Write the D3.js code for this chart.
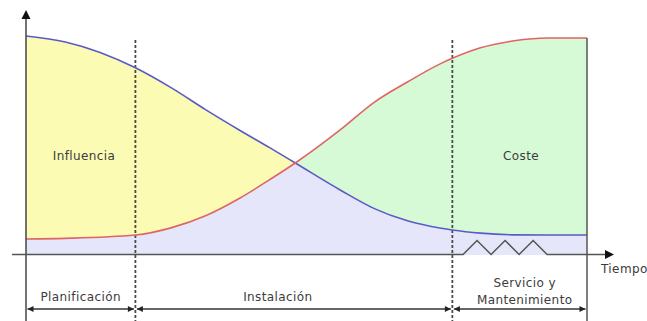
<!DOCTYPE html>
<html>
<head>
<meta charset="utf-8">
<script src="https://cdn.jsdelivr.net/npm/d3@7"></script>
<style>
  html, body { margin: 0; padding: 0; background: #fff; overflow: hidden; }
  svg { display: block; }
  text { font-family: "DejaVu Sans", Verdana, sans-serif; font-size: 12px; fill: #3c3c3c; letter-spacing: 0.4px; }
</style>
</head>
<body>
<svg id="chart" width="647" height="321"></svg>
<script>
// Tiempo a lo largo del proyecto (0–100) y nivel relativo de cada curva (0–100)
const tiempo     = [0, 7, 19.5, 26, 32, 38, 43.5, 48, 56, 62, 68, 74, 76, 81, 87, 93, 100];
const influencia = [100, 97.3, 85.5, 76.2, 66.4, 57.1, 48.9, 42.0, 29.7, 21.3, 15.6, 12.2, 11.4, 10, 9.2, 9.1, 9.1];
const coste      = [7.3, 7.6, 9.1, 12.5, 17.9, 25.8, 34.5, 42.0, 57.1, 69.6, 79, 87.5, 89.8, 94.6, 97.8, 99.1, 99.1];

// Fases del proyecto y sus límites en el eje de tiempo
const fases       = [["Planificación"], ["Instalación"], ["Servicio y", "Mantenimiento"]];
const limitesFase = [0, 19.5, 76, 100];

// Corte del eje de tiempo (zigzag), en unidades de datos
const corteEje = [[77.9, 0], [80.4, 6.4], [82.9, 0], [85.4, 6.4], [87.9, 0], [90.4, 6.4], [92.9, 0]];

const W = 647, H = 321;
const svg = d3.select("#chart");

const x = d3.scaleLinear().domain([0, 100]).range([26, 587]);
const y = d3.scaleLinear().domain([0, 100]).range([255, 36]);

const area = vals => d3.area()
  .x((d, i) => x(tiempo[i]))
  .y0(y(0))
  .y1((d, i) => y(vals[i]))
  .curve(d3.curveMonotoneX);
const line = vals => d3.line()
  .x((d, i) => x(tiempo[i]))
  .y((d, i) => y(vals[i]))
  .curve(d3.curveMonotoneX);

// Recorte: zona bajo la curva de coste
svg.append("defs").append("clipPath").attr("id", "bajoCoste")
  .append("path").attr("d", area(coste)(coste));

// Rellenos: amarillo bajo la influencia, verde bajo el coste, lavanda bajo ambas
svg.append("path").attr("d", area(influencia)(influencia)).attr("fill", "#fbfbb4");
svg.append("path").attr("d", area(coste)(coste)).attr("fill", "#d6fad6");
svg.append("path").attr("d", area(influencia)(influencia)).attr("fill", "#e6e6fa")
  .attr("clip-path", "url(#bajoCoste)");

// Líneas divisorias de fases (discontinuas)
const topDiv = y.range()[1] + 4;
limitesFase.slice(1, -1).forEach(t => {
  svg.append("line")
    .attr("x1", x(t)).attr("x2", x(t))
    .attr("y1", topDiv).attr("y2", H)
    .attr("stroke", "#4a4a4a").attr("stroke-width", 1.8)
    .attr("stroke-dasharray", "3,2");
});

// Curvas
svg.append("path").attr("d", line(influencia)(influencia))
  .attr("fill", "none").attr("stroke", "#5a5ac6").attr("stroke-width", 1.6);
svg.append("path").attr("d", line(coste)(coste))
  .attr("fill", "none").attr("stroke", "#e06464").attr("stroke-width", 1.6);

// Límite derecho
svg.append("line")
  .attr("x1", x(100)).attr("x2", x(100))
  .attr("y1", y(coste[coste.length - 1])).attr("y2", H)
  .attr("stroke", "#555").attr("stroke-width", 1.5);

// Eje vertical con flecha
const axisColor = "#444";
const ax0 = x(0);
svg.append("line").attr("x1", ax0).attr("x2", ax0).attr("y1", H).attr("y2", 17)
  .attr("stroke", axisColor).attr("stroke-width", 1.5);
svg.append("path").attr("d", `M${ax0},10 L${ax0 + 4.5},19 L${ax0 - 4.5},19 Z`).attr("fill", "#111");

// Eje horizontal con corte en zigzag y flecha
const axY = y(0) - 0.5;
const ejePts = [[x.range()[0] - 14, axY]]
  .concat(corteEje.map(([t, v]) => [x(t), y(v) - 0.5]))
  .concat([[x.range()[1] + 21, axY]]);
svg.append("path").attr("d", d3.line()(ejePts))
  .attr("fill", "none").attr("stroke", "#555").attr("stroke-width", 1.5);
const tip = x.range()[1] + 27;
svg.append("path").attr("d", `M${tip},${axY} L${tip - 9},${axY - 4.5} L${tip - 9},${axY + 4.5} Z`).attr("fill", "#111");
svg.append("text").attr("x", tip - 13).attr("y", 273).text("Tiempo");

// Etiquetas de las áreas
svg.append("text").attr("x", 84).attr("y", 160).attr("text-anchor", "middle").text("Influencia");
svg.append("text").attr("x", 521).attr("y", 160).attr("text-anchor", "middle").text("Coste");

// Flechas de duración de cada fase
const arrowY = 309;
const head = (xt, dir) => `M${xt},${arrowY} L${xt - dir * 6},${arrowY - 3} L${xt - dir * 6},${arrowY + 3} Z`;
const labelShift = [0, -16, 5];
fases.forEach((lineas, i) => {
  const a = x(limitesFase[i]) + 1.5, b = x(limitesFase[i + 1]) - 1.5;
  svg.append("line").attr("x1", a).attr("x2", b).attr("y1", arrowY).attr("y2", arrowY)
    .attr("stroke", "#333").attr("stroke-width", 1.4);
  svg.append("path").attr("d", head(a, -1)).attr("fill", "#222");
  svg.append("path").attr("d", head(b, 1)).attr("fill", "#222");
  const cx = (a + b) / 2 + labelShift[i];
  const t = svg.append("text").attr("text-anchor", "middle");
  lineas.forEach((s, k) => {
    t.append("tspan").attr("x", cx)
      .attr("y", arrowY - 8 - (lineas.length - 1 - k) * 17 + (lineas.length > 1 ? 3 : 0))
      .text(s);
  });
});
</script>
</body>
</html>
